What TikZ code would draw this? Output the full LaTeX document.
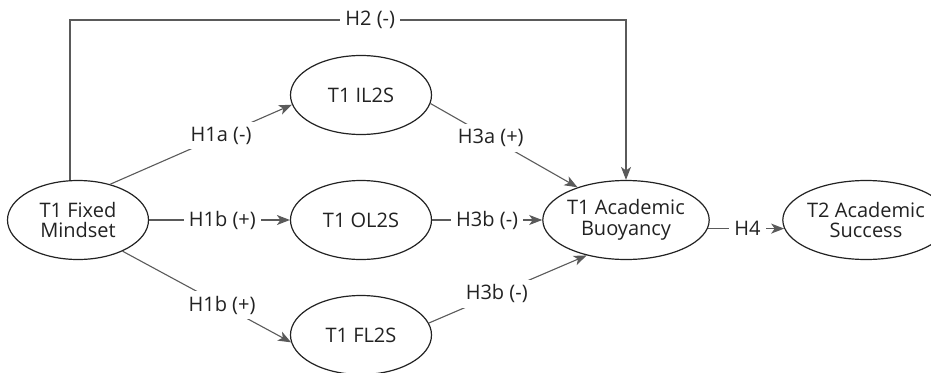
\documentclass[tikz,border=0pt]{standalone}
\usepackage{fontspec}
\setmainfont{Open Sans}
\usetikzlibrary{shapes.geometric,arrows.meta}
\definecolor{linegray}{HTML}{5A5A5A}
\definecolor{edgedark}{HTML}{222222}
\tikzset{
  construct/.style={ellipse,draw=edgedark,line width=1.2pt,minimum width=141pt,minimum height=79pt,inner sep=0pt,align=center,font=\fontsize{20}{20.5}\selectfont,text=edgedark},
  path/.style={draw=linegray,line width=1.1pt},
  arr/.style={path,-{Stealth[length=13pt,width=10pt,inset=3.5pt]}},
  lab/.style={fill=white,inner sep=5pt,font=\fontsize{20}{20}\selectfont,text=edgedark}
}
\begin{document}
\begin{tikzpicture}[x=1pt,y=-1pt]
\useasboundingbox (0,0) rectangle (931,372);
\node[construct] (FM) at (78,220) {T1 Fixed\\Mindset};
\node[construct] (IL) at (361,95) {T1 IL2S};
\node[construct] (OL) at (361,220) {T1 OL2S};
\node[construct] (FL) at (361,335) {T1 FL2S};
\node[construct] (AB) at (626,220) {T1 Academic\\Buoyancy};
\node[construct] (AS) at (866,220) {T2 Academic\\Success};
\coordinate (tl) at (70,20);
\coordinate (tr) at (626,20);
% H2
\draw[arr] (FM.north -| tl) -- (tl) -- node[lab,pos=0.54] {H2 (-)} (tr) -- (AB.north);
% H1a
\draw[arr] (FM.48) -- node[lab,pos=0.61] {H1a (-)} (IL.188);
% H1b middle
\draw[arr] (FM.east) -- node[lab,pos=0.52] {H1b (+)} (OL.west);
% H1b lower
\draw[arr] (FM.-35) -- node[lab,pos=0.59] {H1b (+)} (FL.186);
% H3a
\draw[arr] (IL.-7) -- node[lab,pos=0.41] {H3a (+)} (AB.146);
% H3b middle
\draw[arr] (OL.east) -- node[lab,pos=0.5] {H3b (-)} (AB.west);
% H3b lower
\draw[arr] (FL.10) -- node[lab,pos=0.43] {H3b (-)} (AB.-138);
% H4
\draw[arr] (AB.-6) -- node[lab,pos=0.52] {H4} (AS.186);
\end{tikzpicture}
\end{document}
